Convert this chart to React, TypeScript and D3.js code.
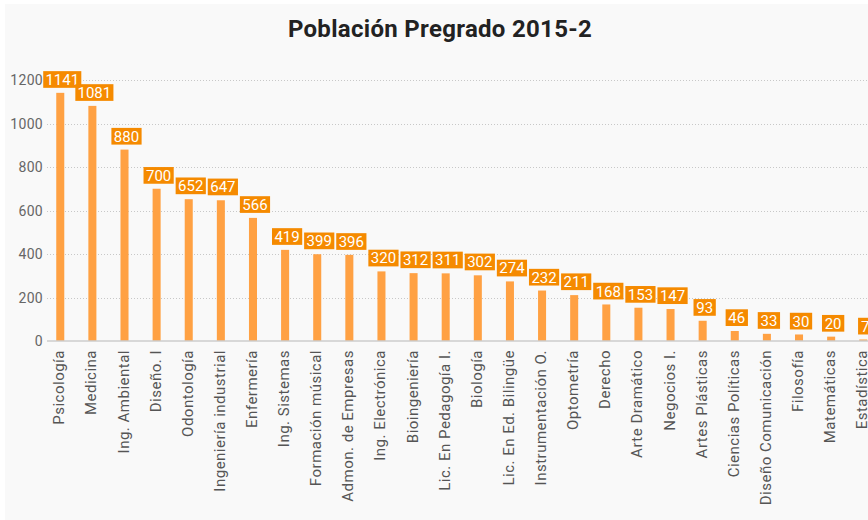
import React from "react";
import * as d3 from "d3";

const categories = [
  "Psicología", "Medicina", "Ing. Ambiental", "Diseño. I", "Odontología",
  "Ingeniería industrial", "Enfermería", "Ing. Sistemas", "Formación músical",
  "Admon. de Empresas", "Ing. Electrónica", "Bioingeniería", "Lic. En Pedagogía I.",
  "Biología", "Lic. En Ed. Bilingüe", "Instrumentación O.", "Optometría", "Derecho",
  "Arte Dramático", "Negocios I.", "Artes Plásticas", "Ciencias Políticas",
  "Diseño Comunicación", "Filosofía", "Matemáticas", "Estadística",
];
const values = [
  1141, 1081, 880, 700, 652, 647, 566, 419, 399, 396, 320, 312, 311, 302, 274,
  232, 211, 168, 153, 147, 93, 46, 33, 30, 20, 7,
];
const yTicks = [0, 200, 400, 600, 800, 1000, 1200];
const title = "Población Pregrado 2015-2";

const W = 868;
const H = 520;
const FONT = "Roboto, 'DejaVu Sans', sans-serif";

export default function App() {
  const x = d3
    .scaleBand<string>()
    .domain(categories)
    .range([44.2, 44.2 + 26 * 32.12])
    .paddingInner(0.75)
    .paddingOuter(0.375);
  const y = d3.scaleLinear().domain([0, 1200]).range([341, 80]);
  const plotLeft = 47;

  return (
    <svg
      width={W}
      height={H}
      style={{ position: "fixed", left: 0, top: 0, display: "block" }}
      fontFamily={FONT}
    >
      <rect x={0} y={0} width={W} height={H} fill="#ffffff" />
      <rect x={5} y={4} width={W - 5} height={H - 4} fill="#f9f9f9" />
      <text
        x={440}
        y={37}
        textAnchor="middle"
        fontSize={24}
        fontWeight="bold"
        fill="#222"
        letterSpacing={0.3}
      >
        {title}
      </text>
      {yTicks.map((t) => (
        <g key={t}>
          {t > 0 && (
            <line
              x1={plotLeft}
              x2={W}
              y1={Math.round(y(t)) + 0.5}
              y2={Math.round(y(t)) + 0.5}
              stroke="#c8c8c8"
              strokeWidth={1}
              strokeDasharray="1,2"
            />
          )}
          <text
            x={43}
            y={y(t)}
            dy="0.36em"
            textAnchor="end"
            fontSize={14}
            fill="#666"
            letterSpacing={0.3}
          >
            {t}
          </text>
        </g>
      ))}
      {categories.map((c, i) => {
        const bx = x(c) as number;
        const bw = x.bandwidth();
        const cx = bx + bw / 2;
        const v = values[i];
        const top = y(v);
        const label = String(v);
        const boxW = label.length * 7.9 + 6.5;
        const boxH = 16.7;
        const lcx = cx + 2;
        const boxBottom = top - 5;
        return (
          <g key={c}>
            <rect x={bx} y={top} width={bw} height={y(0) - top} fill="#ffa143" />
            <rect
              x={lcx - boxW / 2}
              y={boxBottom - boxH}
              width={boxW}
              height={boxH}
              fill="#f58a00"
            />
            <text
              x={lcx}
              y={boxBottom - boxH / 2}
              dy="0.36em"
              textAnchor="middle"
              fontSize={15}
              fill="#ffffff"
            >
              {label}
            </text>
            <text
              transform={`translate(${cx + 4},${350}) rotate(-90)`}
              textAnchor="end"
              fontSize={15}
              fill="#555"
              letterSpacing={0.5}
            >
              {c}
            </text>
          </g>
        );
      })}
      <line
        x1={plotLeft}
        x2={W}
        y1={341}
        y2={341}
        stroke="#cccccc"
        strokeWidth={1.5}
      />
    </svg>
  );
}
